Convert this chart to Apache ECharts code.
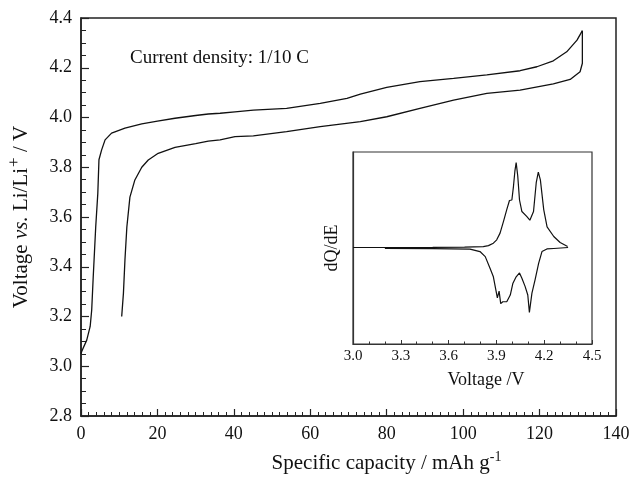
<!DOCTYPE html>
<html>
<head>
<meta charset="utf-8">
<script src="https://cdn.jsdelivr.net/npm/echarts@6/dist/echarts.min.js"></script>
<style>
  html, body { margin: 0; padding: 0; background: #fff; }
  #main { width: 630px; height: 480px; }
</style>
</head>
<body>
<div id="main"></div>
<script>
// 充电曲线 (capacity mAh/g, voltage V)
var chargeCap = [0, 0.2, 1.5, 2.4, 2.8, 3.2, 3.85, 4.4, 4.7, 5.4, 6.3, 8.0, 11.5, 15.9, 20, 24.6, 30, 33.3, 36.4, 40.3, 45.1, 53.8, 62.6, 69.6, 73.1, 80, 88.7, 97.5, 106.2, 114.9, 119.3, 123.6, 127.1, 129.8, 131.2]
var chargeVolt = [3.05, 3.06, 3.105, 3.16, 3.226, 3.36, 3.56, 3.695, 3.83, 3.87, 3.91, 3.937, 3.957, 3.974, 3.985, 3.997, 4.008, 4.014, 4.017, 4.023, 4.03, 4.037, 4.057, 4.077, 4.094, 4.121, 4.144, 4.157, 4.171, 4.188, 4.204, 4.228, 4.264, 4.311, 4.349]
// 放电曲线
var dischargeCap = [131.2, 131.2, 130.6, 128, 123.6, 114.9, 106.2, 97.5, 88.7, 80, 73.1, 62.6, 53.8, 45.1, 40.3, 36.4, 33.3, 30, 24.6, 20.2, 17.6, 15.9, 14.1, 12.8, 12.0, 11.5, 11.1, 10.65]
var dischargeVolt = [4.349, 4.218, 4.184, 4.153, 4.135, 4.11, 4.097, 4.07, 4.037, 4.003, 3.983, 3.963, 3.943, 3.926, 3.923, 3.91, 3.905, 3.895, 3.88, 3.856, 3.829, 3.80, 3.749, 3.68, 3.56, 3.427, 3.293, 3.2]

// 插图 dQ/dE
var dqChargeV = [3.0, 3.5, 3.7, 3.818, 3.85, 3.881, 3.902, 3.923, 3.945, 3.965, 3.982, 3.997, 4.007, 4.016, 4.024, 4.034, 4.045, 4.06, 4.09, 4.11, 4.133, 4.15, 4.163, 4.176, 4.197, 4.218, 4.26, 4.30, 4.347]
var dqChargeVal = [0.005, 0.007, 0.01, 0.015, 0.025, 0.05, 0.085, 0.155, 0.28, 0.40, 0.495, 0.50, 0.64, 0.80, 0.89, 0.75, 0.50, 0.38, 0.33, 0.29, 0.38, 0.68, 0.79, 0.71, 0.40, 0.22, 0.12, 0.057, 0.015]
var dqDischargeV = [4.35, 4.26, 4.217, 4.186, 4.165, 4.143, 4.123, 4.107, 4.097, 4.08, 4.06, 4.045, 4.024, 4.003, 3.987, 3.965, 3.94, 3.927, 3.917, 3.906, 3.898, 3.881, 3.86, 3.83, 3.797, 3.734, 3.5, 3.2]
var dqDischargeVal = [0.005, -0.005, -0.01, -0.037, -0.16, -0.33, -0.47, -0.67, -0.49, -0.40, -0.315, -0.26, -0.30, -0.37, -0.49, -0.56, -0.56, -0.58, -0.45, -0.52, -0.45, -0.30, -0.21, -0.09, -0.037, -0.012, -0.006, -0.004]

function zip(xs, ys) {
  return xs.map(function (x, i) { return [x, ys[i]] })
}

var serif = 'Liberation Serif'
var ink = '#111'

var myChart = echarts.init(document.getElementById('main'))
myChart.setOption({
  animation: false,
  backgroundColor: '#fff',
  title: {
    text: 'Current density: 1/10 C',
    left: 125,
    top: 44,
    textStyle: { fontFamily: serif, fontSize: 19, fontWeight: 'normal', color: ink }
  },
  grid: [
    { left: 81, top: 18, width: 535, height: 398, outerBoundsMode: 'none', show: true, borderColor: '#222', borderWidth: 1.5 },
    { left: 353, top: 152, width: 239, height: 192, outerBoundsMode: 'none', show: true, borderColor: '#333', borderWidth: 1.2, backgroundColor: '#fff' }
  ],
  xAxis: [{
    type: 'value',
    gridIndex: 0,
    min: 0,
    max: 140,
    interval: 20,
    name: 'Specific capacity / mAh g{s|-1}',
    nameLocation: 'middle',
    nameGap: 34,
    nameTextStyle: {
      fontFamily: serif, fontSize: 21, color: ink, padding: [0, 0, 0, 76],
      rich: { s: { fontFamily: serif, fontSize: 14, color: ink, verticalAlign: 'bottom', padding: [0, 0, 13, 0] } }
    },
    axisLine: { onZero: false, lineStyle: { color: '#222', width: 1.5 } },
    axisTick: { inside: true, length: 7, lineStyle: { color: '#222', width: 1.2 } },
    minorTick: { show: true, splitNumber: 10, length: 4, lineStyle: { color: '#222', width: 1 } },
    axisLabel: { margin: 9, fontFamily: serif, fontSize: 18, color: ink },
    splitLine: { show: false }
  }, {
    type: 'value',
    gridIndex: 1,
    min: 3.0,
    max: 4.5,
    interval: 0.3,
    name: 'Voltage /V',
    nameLocation: 'middle',
    nameGap: 27,
    nameTextStyle: { fontFamily: serif, fontSize: 18, color: ink, padding: [0, 0, 0, 27] },
    axisLine: { onZero: false, lineStyle: { color: '#333', width: 1.2 } },
    axisTick: { inside: true, length: 4, lineStyle: { color: '#333', width: 1 } },
    minorTick: { show: true, splitNumber: 3, length: 2.5, lineStyle: { color: '#333', width: 1 } },
    axisLabel: { margin: 5, fontFamily: serif, fontSize: 15, color: ink, formatter: function (v) { return v.toFixed(1) } },
    splitLine: { show: false }
  }],
  yAxis: [{
    type: 'value',
    gridIndex: 0,
    min: 2.8,
    max: 4.4,
    interval: 0.2,
    name: 'Voltage {i|vs.} Li/Li{s|+} / V',
    nameLocation: 'middle',
    nameGap: 44,
    nameTextStyle: {
      fontFamily: serif, fontSize: 21, color: ink,
      rich: {
        i: { fontFamily: serif, fontSize: 21, fontStyle: 'italic', color: ink },
        s: { fontFamily: serif, fontSize: 17, color: ink, verticalAlign: 'bottom', padding: [0, 0, 14, 1] }
      }
    },
    axisLine: { onZero: false, lineStyle: { color: '#222', width: 1.5 } },
    axisTick: { inside: true, length: 8, lineStyle: { color: '#222', width: 1.2 } },
    minorTick: { show: true, splitNumber: 4, length: 5, lineStyle: { color: '#222', width: 1 } },
    axisLabel: { margin: 9, fontFamily: serif, fontSize: 18, color: ink, formatter: function (v) { return v.toFixed(1) } },
    splitLine: { show: false }
  }, {
    type: 'value',
    gridIndex: 1,
    min: -1,
    max: 1,
    name: 'dQ/dE',
    nameLocation: 'middle',
    nameGap: 12,
    nameTextStyle: { fontFamily: serif, fontSize: 18, color: ink },
    axisLine: { onZero: false, lineStyle: { color: '#333', width: 1.2 } },
    axisTick: { show: false },
    axisLabel: { show: false },
    splitLine: { show: false }
  }],
  series: [{
    name: 'charge',
    type: 'line',
    xAxisIndex: 0, yAxisIndex: 0,
    showSymbol: false,
    data: zip(chargeCap, chargeVolt),
    lineStyle: { color: ink, width: 1.3 }
  }, {
    name: 'discharge',
    type: 'line',
    xAxisIndex: 0, yAxisIndex: 0,
    showSymbol: false,
    data: zip(dischargeCap, dischargeVolt),
    lineStyle: { color: ink, width: 1.3 }
  }, {
    name: 'dQ charge',
    type: 'line',
    xAxisIndex: 1, yAxisIndex: 1,
    showSymbol: false,
    data: zip(dqChargeV, dqChargeVal),
    lineStyle: { color: ink, width: 1.2 }
  }, {
    name: 'dQ discharge',
    type: 'line',
    xAxisIndex: 1, yAxisIndex: 1,
    showSymbol: false,
    data: zip(dqDischargeV, dqDischargeVal),
    lineStyle: { color: ink, width: 1.2 }
  }]
})
</script>
</body>
</html>
